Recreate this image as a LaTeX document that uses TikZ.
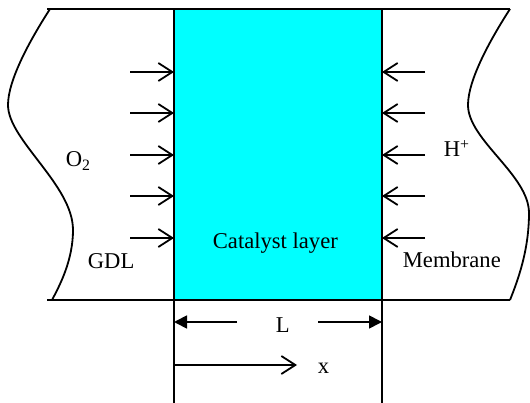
\documentclass[tikz,border=0pt]{standalone}
\usepackage{fontspec}
\setmainfont{Liberation Serif}
\usetikzlibrary{arrows.meta}
\definecolor{catcyan}{RGB}{0,255,255}
\begin{document}
\begin{tikzpicture}[x=1pt,y=-1pt,line width=1.8pt,
  lbl/.style={font=\rmfamily\fontsize{22.6}{27}\selectfont,inner sep=0pt,anchor=base west},
  flux/.style={-{Straight Barb[length=14pt,width=18pt,line width=1.8pt]}},
  dimarrow/.style={-{Triangle[length=13pt,width=13pt]}}]
\useasboundingbox (0,0) rectangle (530,403);
% catalyst layer
\fill[catcyan] (174,9) rectangle (382,300);
% frame lines
\coordinate (tl) at (47,9);  \coordinate (tr) at (510,9);
\coordinate (bl) at (47,300); \coordinate (br) at (510,300);
\draw (tl) -- (tr);
\draw (bl) -- (br);
\coordinate (cl1) at (174,9); \coordinate (cl2) at (174,403);
\coordinate (cr1) at (382,9); \coordinate (cr2) at (382,403);
\draw (cl1) -- (cl2);
\draw (cr1) -- (cr2);
% wavy cuts
\draw (50,9) .. controls (30,40) and (8,80) .. (8,105)
      .. controls (8,140) and (73,185) .. (73,230)
      .. controls (73,260) and (60,285) .. (52,300);
\draw (510,9) .. controls (490,40) and (468,80) .. (468,105)
      .. controls (468,140) and (529,175) .. (529,213)
      .. controls (529,250) and (518,280) .. (510,300);
% flux arrows
\foreach \i/\y in {1/72,2/113,3/155,4/196,5/238}{
  \coordinate (ls\i) at (130,\y); \coordinate (le\i) at (174,\y);
  \draw[flux] (ls\i) -- (le\i);
  \coordinate (rs\i) at (425,\y); \coordinate (re\i) at (382,\y);
  \draw[flux] (rs\i) -- (re\i);
}
% labels
\node[lbl] (o2) at (65,167) {O\textsubscript{2}};
\node[lbl] (gdl) at (87,269) {GDL};
\node[lbl] (cat) at (212,249) {Catalyst layer};
\node[lbl] (hp) at (443,157) {H\textsuperscript{+}};
\node[lbl] (mem) at (402,268) {Membrane};
\node[lbl] (L) at (275,332) {L};
\node[lbl] (xl) at (317,373) {x};
% dimension L
\coordinate (Lls) at (237,322); \coordinate (Lle) at (174,322);
\coordinate (Lrs) at (318,322); \coordinate (Lre) at (382,322);
\draw[dimarrow] (Lls) -- (Lle);
\draw[dimarrow] (Lrs) -- (Lre);
% x axis
\coordinate (xs) at (174,365); \coordinate (xe) at (297,365);
\draw[flux] (xs) -- (xe);
\end{tikzpicture}
\end{document}
